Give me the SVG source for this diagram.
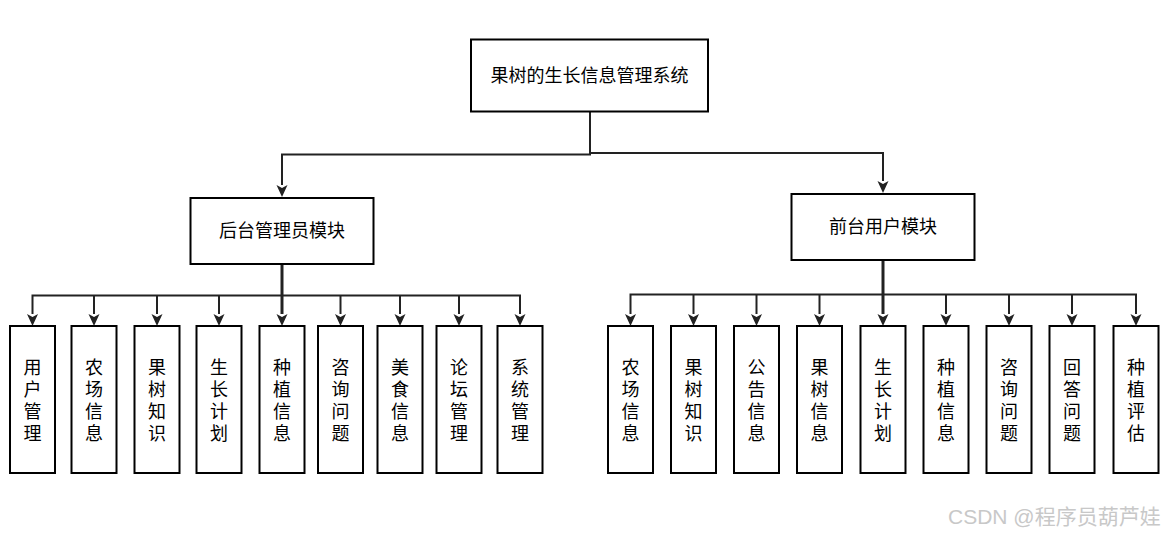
<svg xmlns="http://www.w3.org/2000/svg" width="1171" height="537" viewBox="0 0 1171 537">
<style>
.box{fill:#fff;stroke:#000;stroke-width:2}
.t{font-family:"Noto Sans CJK SC","Liberation Sans",sans-serif;font-size:18px;fill:#000;text-anchor:middle}
.v{font-family:"Noto Sans CJK SC","Liberation Sans",sans-serif;font-size:18px;fill:#000;text-anchor:middle;writing-mode:tb;letter-spacing:4px}
.ln{fill:none;stroke:#222;stroke-width:2}
.wm{font-family:"Liberation Sans","Noto Sans CJK SC",sans-serif;font-size:21px;fill:#c8c8c8}
</style>
<rect width="1171" height="537" fill="#fff"/>
<g id="connectors">
<polyline class="ln" points="590,111 590,154.5 282,154.5 282,185"/>
<path d="M276.5,185 L282,197 L287.5,185 L282,188 Z" fill="#222"/>
<polyline class="ln" points="590,153 883,153 883,181"/>
<path d="M877.5,181 L883,193 L888.5,181 L883,184 Z" fill="#222"/>
<line class="ln" x1="282" y1="264" x2="282" y2="314" style="stroke-width:3"/>
<polyline class="ln" points="32.5,314 32.5,295.5 520,295.5 520,314"/>
<g class="ln">
<line x1="94" y1="295.5" x2="94" y2="314"/>
<line x1="157" y1="295.5" x2="157" y2="314"/>
<line x1="219" y1="295.5" x2="219" y2="314"/>
<line x1="340.5" y1="295.5" x2="340.5" y2="314"/>
<line x1="400" y1="295.5" x2="400" y2="314"/>
<line x1="459" y1="295.5" x2="459" y2="314"/>
</g>
<g fill="#222">
<path d="M27,314 L32.5,326 L38,314 L32.5,317 Z"/>
<path d="M88.5,314 L94,326 L99.5,314 L94,317 Z"/>
<path d="M151.5,314 L157,326 L162.5,314 L157,317 Z"/>
<path d="M213.5,314 L219,326 L224.5,314 L219,317 Z"/>
<path d="M276.5,314 L282,326 L287.5,314 L282,317 Z"/>
<path d="M335,314 L340.5,326 L346,314 L340.5,317 Z"/>
<path d="M394.5,314 L400,326 L405.5,314 L400,317 Z"/>
<path d="M453.5,314 L459,326 L464.5,314 L459,317 Z"/>
<path d="M514.5,314 L520,326 L525.5,314 L520,317 Z"/>
</g>
<line class="ln" x1="883" y1="260" x2="883" y2="314" style="stroke-width:3"/>
<polyline class="ln" points="630.5,314 630.5,294.5 1136,294.5 1136,314"/>
<g class="ln">
<line x1="693.5" y1="294.5" x2="693.5" y2="314"/>
<line x1="756.5" y1="294.5" x2="756.5" y2="314"/>
<line x1="819.5" y1="294.5" x2="819.5" y2="314"/>
<line x1="946" y1="294.5" x2="946" y2="314"/>
<line x1="1009" y1="294.5" x2="1009" y2="314"/>
<line x1="1072" y1="294.5" x2="1072" y2="314"/>
</g>
<g fill="#222">
<path d="M625,314 L630.5,326 L636,314 L630.5,317 Z"/>
<path d="M688,314 L693.5,326 L699,314 L693.5,317 Z"/>
<path d="M751,314 L756.5,326 L762,314 L756.5,317 Z"/>
<path d="M814,314 L819.5,326 L825,314 L819.5,317 Z"/>
<path d="M877.5,314 L883,326 L888.5,314 L883,317 Z"/>
<path d="M940.5,314 L946,326 L951.5,314 L946,317 Z"/>
<path d="M1003.5,314 L1009,326 L1014.5,314 L1009,317 Z"/>
<path d="M1066.5,314 L1072,326 L1077.5,314 L1072,317 Z"/>
<path d="M1130.5,314 L1136,326 L1141.5,314 L1136,317 Z"/>
</g>
</g>
<g id="root"><rect class="box" x="471" y="39.5" width="237" height="72"/><text class="t" x="589.5" y="82">果树的生长信息管理系统</text></g>
<g id="admin"><rect class="box" x="190.5" y="198" width="183" height="66"/><text class="t" x="282" y="237">后台管理员模块</text></g>
<g id="front"><rect class="box" x="791.5" y="194" width="183" height="66"/><text class="t" x="883" y="233">前台用户模块</text></g>
<g id="a1"><rect class="box" x="10" y="326" width="45" height="147"/><text class="v" x="32.5" y="402">用户管理</text></g>
<g id="a2"><rect class="box" x="71.5" y="326" width="45" height="147"/><text class="v" x="94" y="402">农场信息</text></g>
<g id="a3"><rect class="box" x="134.5" y="326" width="45" height="147"/><text class="v" x="157" y="402">果树知识</text></g>
<g id="a4"><rect class="box" x="196.5" y="326" width="45" height="147"/><text class="v" x="219" y="402">生长计划</text></g>
<g id="a5"><rect class="box" x="259.5" y="326" width="45" height="147"/><text class="v" x="282" y="402">种植信息</text></g>
<g id="a6"><rect class="box" x="318" y="326" width="45" height="147"/><text class="v" x="340.5" y="402">咨询问题</text></g>
<g id="a7"><rect class="box" x="377.5" y="326" width="45" height="147"/><text class="v" x="400" y="402">美食信息</text></g>
<g id="a8"><rect class="box" x="436.5" y="326" width="45" height="147"/><text class="v" x="459" y="402">论坛管理</text></g>
<g id="a9"><rect class="box" x="497.5" y="326" width="45" height="147"/><text class="v" x="520" y="402">系统管理</text></g>
<g id="f1"><rect class="box" x="608" y="326" width="45" height="147"/><text class="v" x="630.5" y="402">农场信息</text></g>
<g id="f2"><rect class="box" x="671" y="326" width="45" height="147"/><text class="v" x="693.5" y="402">果树知识</text></g>
<g id="f3"><rect class="box" x="734" y="326" width="45" height="147"/><text class="v" x="756.5" y="402">公告信息</text></g>
<g id="f4"><rect class="box" x="797" y="326" width="45" height="147"/><text class="v" x="819.5" y="402">果树信息</text></g>
<g id="f5"><rect class="box" x="860.5" y="326" width="45" height="147"/><text class="v" x="883" y="402">生长计划</text></g>
<g id="f6"><rect class="box" x="923.5" y="326" width="45" height="147"/><text class="v" x="946" y="402">种植信息</text></g>
<g id="f7"><rect class="box" x="986.5" y="326" width="45" height="147"/><text class="v" x="1009" y="402">咨询问题</text></g>
<g id="f8"><rect class="box" x="1049.5" y="326" width="45" height="147"/><text class="v" x="1072" y="402">回答问题</text></g>
<g id="f9"><rect class="box" x="1113.5" y="326" width="45" height="147"/><text class="v" x="1136" y="402">种植评估</text></g>
<text class="wm" x="948" y="524">CSDN @程序员葫芦娃</text>
</svg>
